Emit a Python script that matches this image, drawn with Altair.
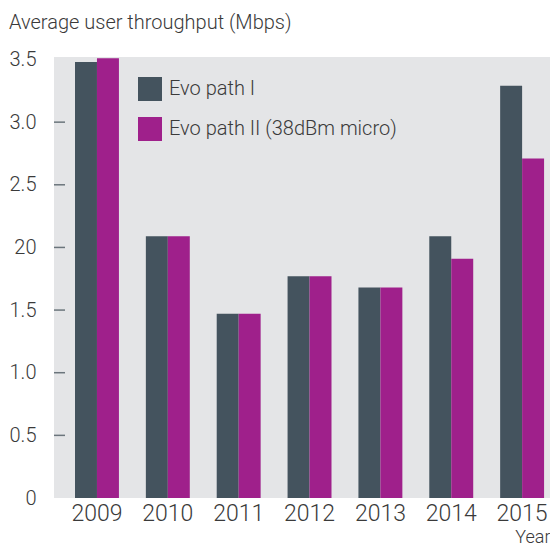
import altair as alt
import pandas as pd

years = ["2009", "2010", "2011", "2012", "2013", "2014", "2015"]
series = ["Evo path I", "Evo path II (38dBm micro)"]
path1 = [3.48, 2.09, 1.47, 1.77, 1.68, 2.09, 3.29]
path2 = [3.51, 2.09, 1.47, 1.77, 1.68, 1.91, 2.71]
y_ticks = [0, 0.5, 1.0, 1.5, 2.0, 2.5, 3.0, 3.5]
tick_marks = [0.5, 1.0, 1.5, 2.0, 2.5, 3.0]
colors = ["#44535e", "#9f208b"]

FONT = "Roboto"
TXT = "#3a3a3a"

rows = []
for i, yr in enumerate(years):
    rows.append({"Year": yr, "Series": series[0], "Value": path1[i]})
    rows.append({"Year": yr, "Series": series[1], "Value": path2[i]})
df = pd.DataFrame(rows)
ticks_df = pd.DataFrame({"v": tick_marks})

yscale = alt.Scale(domain=[0, 3.52], nice=False, zero=True)

bars = alt.Chart(df).mark_bar().encode(
    x=alt.X(
        "Year:N",
        sort=years,
        scale=alt.Scale(paddingInner=0.38, paddingOuter=0.19, align=0.78),
        axis=alt.Axis(
            title="Year",
            titleAnchor="end",
            titleFont=FONT,
            titleFontSize=18,
            titleFontWeight=300,
            titleColor=TXT,
            titlePadding=3,
            labelAngle=0,
            labelFont=FONT,
            labelFontSize=23,
            labelFontWeight=300,
            labelColor=TXT,
            labelPadding=4,
            ticks=False,
            domain=False,
        ),
    ),
    xOffset=alt.XOffset("Series:N", sort=series, scale=alt.Scale(paddingInner=0, paddingOuter=0)),
    y=alt.Y(
        "Value:Q",
        scale=yscale,
        axis=alt.Axis(
            title=None,
            values=y_ticks,
            labelExpr="datum.value == 2 ? '20' : (datum.value == 0 ? '0' : format(datum.value, '.1f'))",
            labelFont=FONT,
            labelFontSize=20,
            labelFontWeight=300,
            labelColor=TXT,
            labelPadding=18,
            ticks=False,
            domain=False,
            grid=False,
        ),
    ),
    color=alt.Color(
        "Series:N",
        sort=series,
        scale=alt.Scale(domain=series, range=colors),
        legend=alt.Legend(
            title=None,
            orient="none",
            legendX=84,
            legendY=20,
            padding=0,
            symbolType="square",
            symbolSize=576,
            symbolStrokeWidth=0,
            symbolOpacity=1,
            labelFont=FONT,
            labelFontSize=20,
            labelFontWeight=300,
            labelColor=TXT,
            labelOffset=7,
            labelLimit=0,
            rowPadding=16,
        ),
    ),
)

tickrules = alt.Chart(ticks_df).mark_rule(color="#6b757c", strokeWidth=1.5).encode(
    y=alt.Y("v:Q", scale=yscale),
    x=alt.value(0),
    x2=alt.value(11),
)

chart = (
    alt.layer(bars, tickrules)
    .properties(
        width=496,
        height=441,
        autosize=alt.AutoSizeParams(type="none"),
        padding={"left": 46, "top": 49, "right": 0, "bottom": 49},
        title=alt.TitleParams(
            "Average user throughput (Mbps)",
            anchor="start",
            font=FONT,
            fontSize=20,
            fontWeight=300,
            color=TXT,
            offset=17,
        ),
    )
    .configure_view(fill="#e4e5e7", strokeWidth=0)
)

chart.save("out.html", embed_options={"renderer": "svg", "actions": False})
